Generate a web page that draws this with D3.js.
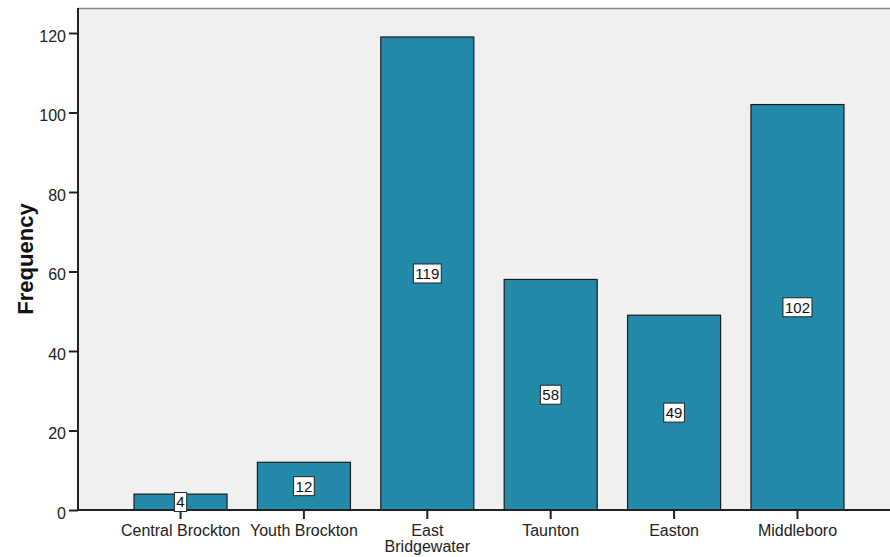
<!DOCTYPE html>
<html><head><meta charset="utf-8">
<script src="https://cdn.jsdelivr.net/npm/d3@7"></script>
<style>body{margin:0;background:#fff;} text{font-family:"Liberation Sans",Arial,sans-serif;}</style>
</head><body>
<svg id="c" width="890" height="557"></svg>
<script>
const categories = ["Central Brockton","Youth Brockton","East Bridgewater","Taunton","Easton","Middleboro"];
const categoryLines = [["Central Brockton"],["Youth Brockton"],["East","Bridgewater"],["Taunton"],["Easton"],["Middleboro"]];
const values = [4,12,119,58,49,102];
const yTicks = [0,20,40,60,80,100,120];

const svg = d3.select("#c");
const L = 78, R = 900, T = 8, B = 510;
const x = d3.scaleBand().domain(categories).range([L, R]).paddingInner(0.246).paddingOuter(0.454);
const y = d3.scaleLinear().domain([0,120]).range([B, 33]);

svg.append("rect").attr("x",L).attr("y",T).attr("width",R-L).attr("height",B-T).attr("fill","#f0f0f0");
svg.append("line").attr("x1",L).attr("x2",R).attr("y1",T+0.5).attr("y2",T+0.5).attr("stroke","#888").attr("stroke-width",1.5);

svg.selectAll("rect.bar").data(values).join("rect").attr("class","bar")
  .attr("x",(d,i)=>x(categories[i])).attr("width",x.bandwidth())
  .attr("y",d=>y(d)).attr("height",d=>B-y(d))
  .attr("fill","#248aaa").attr("stroke","#1c1c1c").attr("stroke-width",1.2);

// y axis
const ya = svg.append("g").attr("transform",`translate(${L},0)`)
  .call(d3.axisLeft(y).tickValues(yTicks).tickSize(9).tickPadding(3));
ya.select(".domain").attr("stroke","#222").attr("stroke-width",2).attr("d",`M0,${T}V${B}`);
ya.selectAll(".tick line").attr("stroke","#222").attr("stroke-width",2);
ya.selectAll(".tick text").attr("font-size",16).attr("fill","#222").attr("dy","0.5em")
  .attr("font-family","Liberation Sans, Arial, sans-serif");

// x axis
const xa = svg.append("g").attr("transform",`translate(0,${B})`)
  .call(d3.axisBottom(x).tickSize(9).tickFormat(""));
xa.select(".domain").attr("stroke","#222").attr("stroke-width",2).attr("d",`M${L},0H${R}`);
xa.selectAll(".tick line").attr("stroke","#222").attr("stroke-width",2);
xa.selectAll(".tick").each(function(d,i){
  const t = d3.select(this).append("text").attr("fill","#222").attr("font-size",16)
    .attr("text-anchor","middle").attr("font-family","Liberation Sans, Arial, sans-serif");
  categoryLines[i].forEach((ln,j)=>t.append("tspan").attr("x",0).attr("y",26+j*16).text(ln));
});

// y label
svg.append("text").attr("transform",`translate(33,259) rotate(-90)`).attr("text-anchor","middle")
  .attr("font-size",22).attr("font-weight","bold").attr("fill","#111").text("Frequency");

// value labels
const lg = svg.selectAll("g.vl").data(values).join("g").attr("class","vl")
  .attr("transform",(d,i)=>`translate(${x(categories[i])+x.bandwidth()/2},${(y(d)+B)/2})`);
lg.each(function(d){
  const g = d3.select(this);
  const t = g.append("text").attr("text-anchor","middle").attr("dy","0.36em").attr("font-size",15).attr("fill","#111").text(d);
  const w = t.node().getComputedTextLength();
  g.insert("rect","text").attr("x",-w/2-2).attr("y",-9.5).attr("width",w+4).attr("height",19)
    .attr("fill","#fff").attr("stroke","#222").attr("stroke-width",1);
});
</script>
</body></html>
